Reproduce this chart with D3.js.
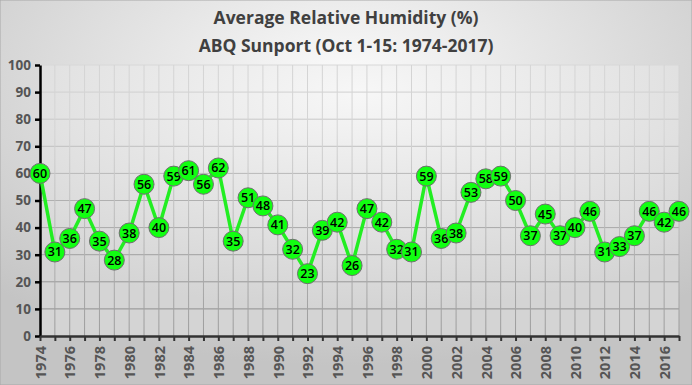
<!DOCTYPE html>
<html>
<head>
<meta charset="utf-8">
<script src="https://cdn.jsdelivr.net/npm/d3@7"></script>
<style>
  body { margin: 0; }
</style>
</head>
<body>
<div id="chart"></div>
<script>
const years = d3.range(1974, 2018)
const humidity = [60, 31, 36, 47, 35, 28, 38, 56, 40, 59, 61, 56, 62, 35, 51, 48, 41, 32, 23, 39,
    42, 26, 47, 42, 32, 31, 59, 36, 38, 53, 58, 59, 50, 37, 45, 37, 40, 46, 31, 33, 37, 46, 42, 46]
const yTicks = [0, 10, 20, 30, 40, 50, 60, 70, 80, 90, 100]
const titleLines = ["Average Relative Humidity (%)", "ABQ Sunport (Oct 1-15: 1974-2017)"]

const lineColor = "#22ee22"
const markerColor = "#11ff11"

const W = 692, H = 385;
const margin = { top: 65, right: 13, bottom: 49, left: 40 };
const width = W - margin.left - margin.right;
const height = H - margin.top - margin.bottom;

const svg = d3.select("#chart")
    .append("svg")
    .attr("width", W)
    .attr("height", H);

const defs = svg.append("defs");

// outer background
const bg = defs.append("radialGradient")
    .attr("id", "bgGrad")
    .attr("cx", "50%").attr("cy", "20%").attr("r", "75%");
bg.append("stop").attr("offset", "0%").attr("stop-color", "#fafafa");
bg.append("stop").attr("offset", "100%").attr("stop-color", "#c4c4c4");

// plot area background
const pg = defs.append("radialGradient")
    .attr("id", "plotGrad")
    .attr("cx", "50%").attr("cy", "10%").attr("r", "80%");
pg.append("stop").attr("offset", "0%").attr("stop-color", "#f7f7f7");
pg.append("stop").attr("offset", "100%").attr("stop-color", "#d4d4d4");

// gridlines fade towards the top
const gg = defs.append("linearGradient")
    .attr("id", "gridGrad")
    .attr("gradientUnits", "userSpaceOnUse")
    .attr("x1", 0).attr("y1", margin.top).attr("x2", 0).attr("y2", margin.top + height);
gg.append("stop").attr("offset", "0%").attr("stop-color", "#d4d4d4");
gg.append("stop").attr("offset", "100%").attr("stop-color", "#888");

svg.append("rect")
    .attr("width", W).attr("height", H)
    .attr("fill", "url(#bgGrad)")
    .attr("stroke", "#a8a8a8")
    .attr("stroke-width", 1);

const g = svg.append("g")
    .attr("transform", "translate(" + margin.left + "," + margin.top + ")");

// Scales
const x = d3.scalePoint()
    .domain(years)
    .range([0, width]);

const y = d3.scaleLinear()
    .domain([0, 100])
    .range([height, 0]);

g.append("rect")
    .attr("width", width).attr("height", height)
    .attr("fill", "url(#plotGrad)");

// Gridlines
g.append("g")
    .selectAll("line")
    .data(yTicks.slice(1))
    .enter().append("line")
    .attr("x1", 0).attr("x2", width)
    .attr("y1", d => y(d)).attr("y2", d => y(d))
    .attr("stroke", d => d3.interpolateRgb("#888", "#d8d8d8")(d / 100))
    .attr("stroke-width", 1);

g.append("g")
    .selectAll("line")
    .data(years.slice(1))
    .enter().append("line")
    .attr("x1", d => x(d)).attr("x2", d => x(d))
    .attr("y1", 0).attr("y2", height)
    .attr("stroke", "url(#gridGrad)")
    .attr("stroke-width", 1);

// Y axis
const yAxis = g.append("g")
    .call(d3.axisLeft(y).tickValues(yTicks).tickSize(5).tickSizeOuter(0).tickPadding(4));
yAxis.select(".domain").attr("stroke", "#000").attr("stroke-width", 2.5);
yAxis.selectAll(".tick line").attr("stroke", "#000").attr("stroke-width", 2.5);
yAxis.selectAll("text")
    .style("font-family", "'Open Sans', sans-serif")
    .style("font-size", "13.5px")
    .style("font-weight", "bold")
    .attr("fill", "#555");

// X axis
const xAxis = g.append("g")
    .attr("transform", "translate(0," + height + ")")
    .call(d3.axisBottom(x).tickSize(5).tickSizeOuter(0)
        .tickFormat(d => (d % 2 === 0 ? d : "")));
xAxis.select(".domain").attr("stroke", "#333").attr("stroke-width", 2.5);
xAxis.selectAll(".tick line").attr("stroke", "#333").attr("stroke-width", 2);
xAxis.selectAll("text")
    .attr("transform", "rotate(-90)")
    .attr("text-anchor", "end")
    .attr("x", -10)
    .attr("y", 0)
    .attr("dy", "0.36em")
    .style("font-family", "'Open Sans', sans-serif")
    .style("font-size", "14.5px")
    .style("font-weight", "bold")
    .attr("fill", "#555");

// Line
const line = d3.line()
    .x((d, i) => x(years[i]))
    .y(d => y(d));

g.append("path")
    .datum(humidity)
    .attr("fill", "none")
    .attr("stroke", lineColor)
    .attr("stroke-width", 3.5)
    .attr("stroke-linejoin", "round")
    .attr("d", line);

// Markers + labels
const pts = g.selectAll(".pt")
    .data(humidity)
    .enter().append("g")
    .attr("class", "pt")
    .attr("transform", (d, i) => "translate(" + x(years[i]) + "," + y(d) + ")");

pts.append("circle")
    .attr("r", 10)
    .attr("fill", markerColor)
    .attr("stroke", "#6f6f6f")
    .attr("stroke-width", 1);

pts.append("text")
    .attr("text-anchor", "middle")
    .attr("dy", "0.36em")
    .style("font-family", "'Open Sans', sans-serif")
    .style("font-size", "12.5px")
    .style("font-weight", "600")
    .attr("fill", "#000")
    .text(d => d);

// Title
svg.append("g")
    .selectAll("text")
    .data(titleLines)
    .enter().append("text")
    .attr("x", 346)
    .attr("y", (d, i) => 24 + i * 28)
    .attr("text-anchor", "middle")
    .style("font-family", "'Open Sans', sans-serif")
    .style("font-size", "17.5px")
    .style("font-weight", "bold")
    .attr("fill", "#404040")
    .text(d => d);
</script>
</body>
</html>
